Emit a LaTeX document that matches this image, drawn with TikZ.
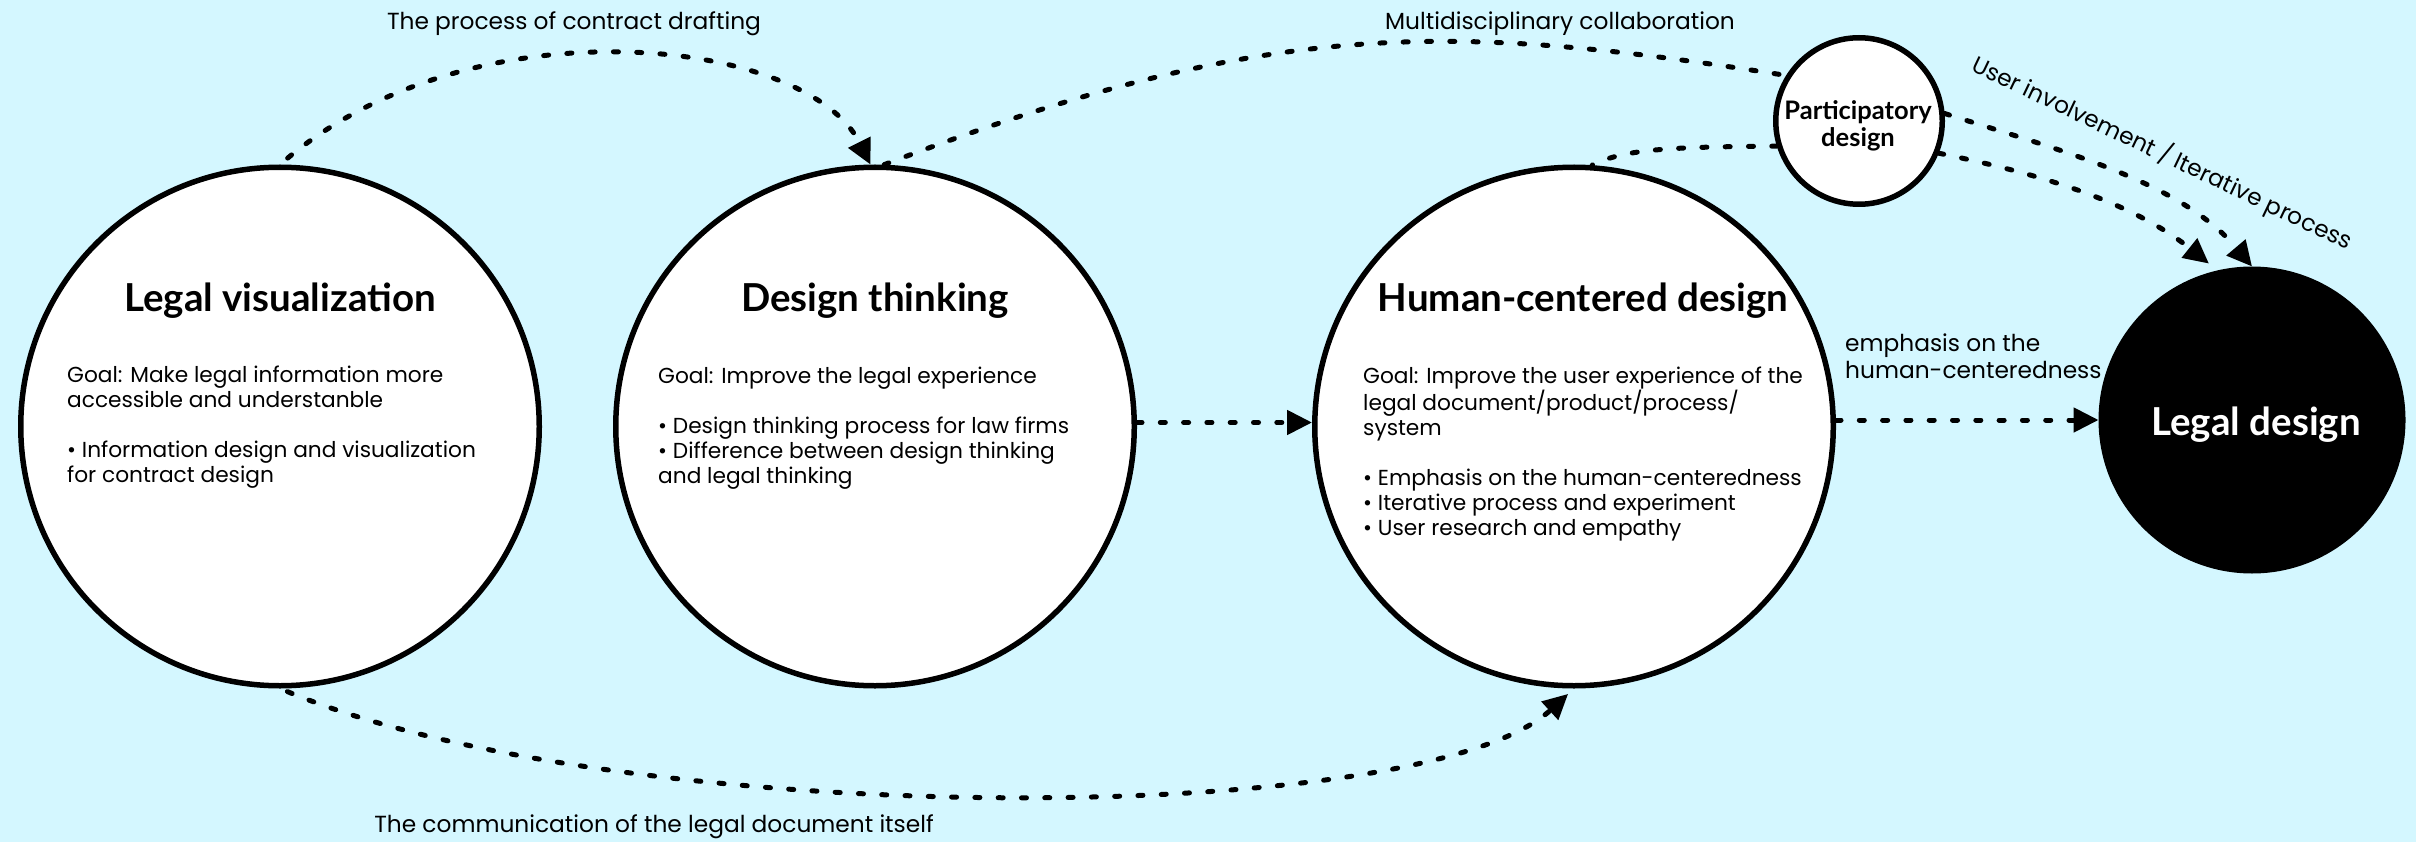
\documentclass[tikz,border=0pt]{standalone}
\usepackage{fontspec}
\setmainfont{Poppins}
\newfontfamily\headfont{Lato}
\usetikzlibrary{arrows.meta}
\definecolor{bgc}{RGB}{212,247,255}
\newcommand\blk[1]{\begin{tabular}[t]{@{}l@{}}#1\end{tabular}}
\newcommand\cblk[1]{\begin{tabular}[t]{@{}c@{}}#1\end{tabular}}
\tikzset{
  bigcirc/.style={circle, draw=black, line width=5.5pt, fill=white, minimum size=518.5pt, inner sep=0pt},
  dotline/.style={line width=5pt, line cap=round, dash pattern=on 5pt off 18.3pt},
  arrowend/.style={-{Triangle[length=25pt,width=24pt]}},
  headtxt/.style={font=\headfont\bfseries\fontsize{38.5}{42}\selectfont, anchor=base, inner sep=0pt},
  bodytxt/.style={font=\fontsize{21.7}{25}\selectfont, anchor=base west, inner sep=0pt},
  lbltxt/.style={font=\fontsize{23.3}{27}\selectfont, anchor=base, inner sep=0pt},
}
\begin{document}
\begin{tikzpicture}[x=1pt,y=-1pt]
\fill[bgc] (0,0) rectangle (2416,842);
\useasboundingbox (0,0) rectangle (2416,842);
% circles
\node[bigcirc] (lv) at (280,426.5) {};
\node[bigcirc] (dt) at (875,426.5) {};
\node[bigcirc] (hcd) at (1574,426.5) {};
\node[circle, draw=black, fill=black, line width=5.5pt, minimum size=301.5pt, inner sep=0pt] (ld) at (2252,420) {};
\node[circle, draw=black, fill=white, line width=5.5pt, minimum size=166.5pt, inner sep=0pt] (pd) at (1859,121) {};
% titles
\node[headtxt] (lvt) at (280,311) {Legal visualization};
\node[headtxt] (dtt) at (875,311) {Design thinking};
\node[headtxt] (hcdt) at (1583,311) {Human-centered design};
\node[headtxt, text=white] (ldt) at (2256,435) {Legal design};
\node[headtxt, font=\headfont\bfseries\fontsize{25.5}{25}\selectfont] (pdt) at (1858,120) {\cblk{Participatory\\design}};
% bodies
\node[bodytxt] (lvb) at (67,382) {\blk{Goal: Make legal information more\\accessible and understanble\\ \\• Information design and visualization\\for contract design}};
\node[bodytxt] (dtb) at (658,383) {\blk{Goal: Improve the legal experience\\ \\• Design thinking process for law firms\\• Difference between design thinking\\and legal thinking}};
\node[bodytxt] (hcdb) at (1363,383) {\blk{Goal: Improve the user experience of the\\legal document/product/process/\\system\\ \\• Emphasis on the human-centeredness\\• Iterative process and experiment\\• User research and empathy}};
% labels
\node[lbltxt] (l1) at (574,30) {The process of contract drafting};
\node[lbltxt] (l2) at (1560,30) {Multidisciplinary collaboration};
\node[lbltxt] (l3) at (654,832) {The communication of the legal document itself};
\node[bodytxt, font=\fontsize{23.3}{27}\selectfont] (l4) at (1845,351) {\blk{emphasis on the\\human-centeredness}};
\node[lbltxt, rotate=-25.5, anchor=center] (l5) at (2162,153) {User involvement / Iterative process};
% connectors
\draw[dotline, arrowend, shorten <=10pt] (lv.north) .. controls (476,1) and (807,37) .. (dt.91);
\draw[dotline] (dt.88) .. controls (1273,16) and (1452,23) .. (pd.148);
\draw[dotline] (pd.197) .. controls (1680,147) and (1625,148) .. (hcd.86);
\draw[dotline, arrowend] (pd.5) .. controls (2058,150) and (2179.5,180.5) .. (ld.north);
\draw[dotline, arrowend, shorten >=11pt] (pd.-22) .. controls (2026,171) and (2127,198) .. (ld.103);
\draw[dotline, arrowend, shorten <=8pt, shorten >=8pt] (lv.south) .. controls (620,830) and (1420,830) .. (hcd.south);
\draw[dotline, arrowend] ([yshift=4pt]dt.east) -- ([yshift=4pt]hcd.west);
\draw[dotline, arrowend] (hcd.east |- ld.west) -- (ld.west);
\end{tikzpicture}
\end{document}
